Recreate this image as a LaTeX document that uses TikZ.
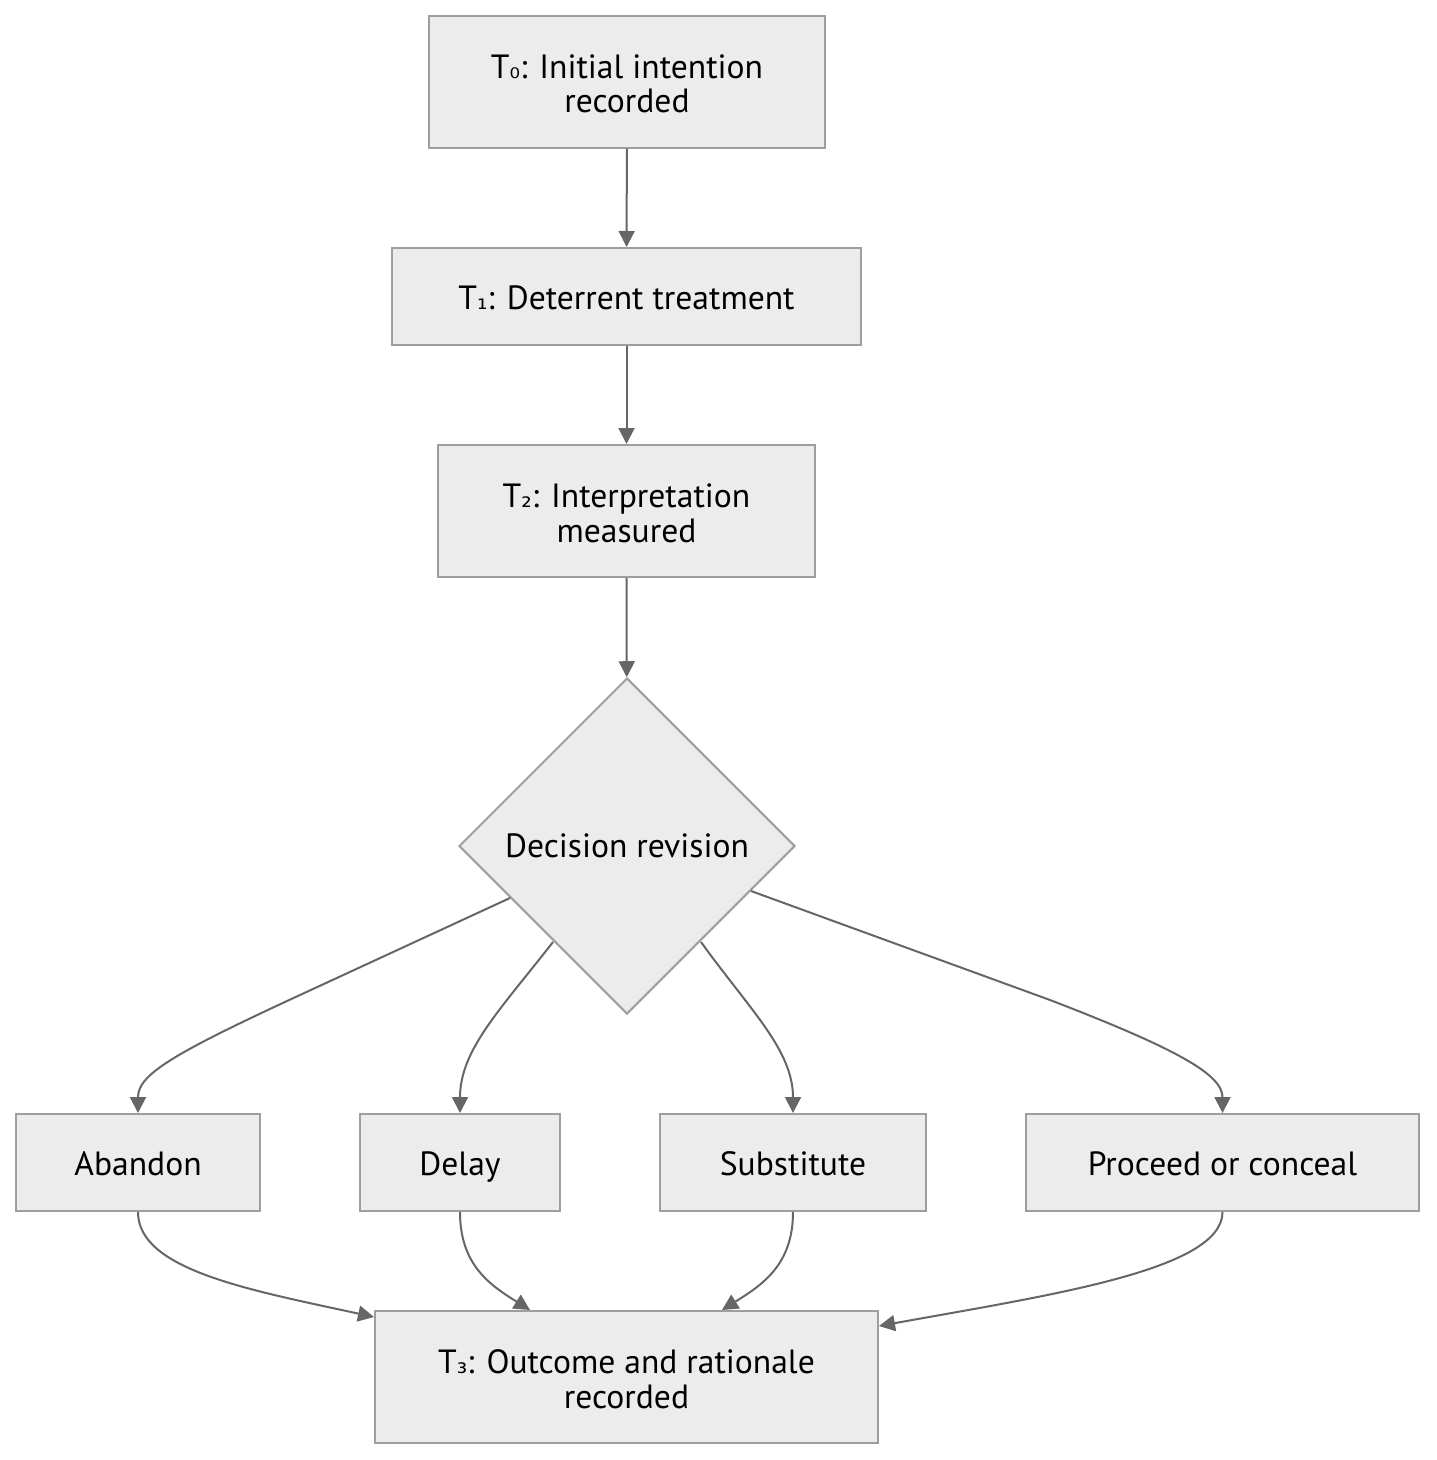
\documentclass[tikz,border=0pt]{standalone}
\usepackage{fontspec}
\setmainfont{PT Sans}
\newfontfamily\subf{DejaVu Sans}
\usetikzlibrary{shapes.geometric,arrows.meta,calc}
\definecolor{boxfill}{HTML}{ECECEC}
\definecolor{boxline}{HTML}{9E9E9E}
\definecolor{edge}{HTML}{666666}
\newcommand{\sbs}[1]{{\subf\fontsize{13}{15}\selectfont #1}}
\begin{document}
\begin{tikzpicture}[x=0.5pt,y=-0.5pt,
  box/.style={draw=boxline,fill=boxfill,line width=1pt,rectangle,inner sep=0pt,align=center,
    font=\fontsize{16.8}{17.2}\selectfont},
  oneline/.style={text height=14.4pt,text depth=1.2pt},
  dia/.style={draw=boxline,fill=boxfill,line width=1pt,diamond,aspect=1,inner sep=0pt,
    minimum width=168pt,minimum height=168pt,font=\fontsize{16.8}{17.2}\selectfont},
  conn/.style={draw=edge,line width=1pt,-{Triangle[length=8pt,width=8pt]}}]
\path[use as bounding box] (0,0) rectangle (1436,1460);
\node[box,minimum width=198pt,minimum height=66pt] (t0) at (627,82) {\rule{0pt}{14pt}T\sbs{₀}: Initial intention\\recorded};
\node[box,oneline,minimum width=234.5pt,minimum height=48.5pt] (t1) at (626.5,296.5) {T\sbs{₁}: Deterrent treatment};
\node[box,minimum width=188.5pt,minimum height=66pt] (t2) at (626.5,511) {\rule{0pt}{14pt}T\sbs{₂}: Interpretation\\measured};
\node[dia] (dec) at (627,846) {Decision revision};
\node[box,oneline,minimum width=122pt,minimum height=48.5pt] (ab) at (138,1162.5) {Abandon};
\node[box,oneline,minimum width=100pt,minimum height=48.5pt] (de) at (460,1162.5) {Delay};
\node[box,oneline,minimum width=133pt,minimum height=48.5pt] (su) at (793,1162.5) {Substitute};
\node[box,oneline,minimum width=196.5pt,minimum height=48.5pt] (pr) at (1222.5,1162.5) {Proceed or conceal};
\node[box,minimum width=251.5pt,minimum height=66pt] (t3) at (626.5,1377) {\rule{0pt}{14pt}T\sbs{₃}: Outcome and rationale\\recorded};

\draw[conn] (t0) -- (t1);
\draw[conn] (t1) -- (t2);
\draw[conn] (t2) -- (dec);

\draw[conn] ($(dec.center)+(-117,52)$) -- (300,995) .. controls (170,1055) and (138,1075) .. (ab.north);
\draw[conn] ($(dec.center)+(-74,96)$) .. controls (500,1010) and (460,1050) .. (de.north);
\draw[conn] ($(dec.center)+(74,96)$) .. controls (750,1010) and (793,1050) .. (su.north);
\draw[conn] ($(dec.center)+(124,45)$) -- (1050,1000) .. controls (1180,1050) and (1222.5,1075) .. (pr.north);

\draw[conn] (ab.south) .. controls (138,1270) and (250,1290) .. ([yshift=-3.5pt]t3.north west);
\draw[conn] (de.south) .. controls (460,1265) and (490,1285) .. ([xshift=-48.25pt]t3.north);
\draw[conn] (su.south) .. controls (793,1265) and (762,1285) .. ([xshift=47.75pt]t3.north);
\draw[conn] (pr.south) .. controls (1222.5,1270) and (1050,1295) .. ([yshift=-8pt]t3.north east);
\end{tikzpicture}
\end{document}
